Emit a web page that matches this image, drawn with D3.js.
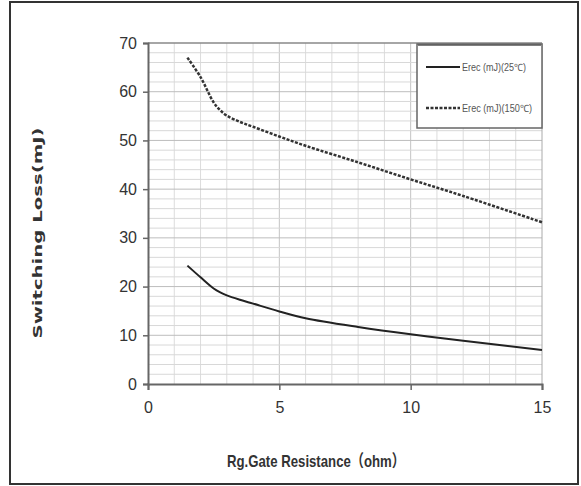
<!DOCTYPE html>
<html><head><meta charset="utf-8">
<script src="https://cdn.jsdelivr.net/npm/d3@7"></script>
<style>html,body{margin:0;padding:0;background:#fff;}svg{display:block;}</style>
</head><body>
<script>
const rg = [1.5, 2, 2.5, 2.75, 3, 3.5, 4, 5, 6, 8, 10, 12, 15];
const erec25 = [24.3, 21.9, 19.6, 18.8, 18.2, 17.3, 16.5, 14.9, 13.5, 11.7, 10.2, 8.9, 7.0];
const erec150 = [67.0, 63.0, 57.8, 56.2, 55.1, 53.8, 52.8, 50.8, 48.9, 45.5, 42.0, 38.6, 33.2];
const seriesNames = ["Erec (mJ)(25\u2103)", "Erec (mJ)(150\u2103)"];
const xTicks = [0, 5, 10, 15];
const yTicks = [0, 10, 20, 30, 40, 50, 60, 70];
const xTitle = "Rg.Gate Resistance\uFF08ohm\uFF09";
const yTitle = "Switching Loss(mJ)";

const W = 581, H = 486;
const svg = d3.select("body").append("svg").attr("width", W).attr("height", H);
const L = 148, R = 542, T = 43, B = 384;
const x = d3.scaleLinear().domain([0, 15]).range([L, R]);
const y = d3.scaleLinear().domain([0, 70]).range([B, T]);
const narrow = "'Liberation Sans Narrow','Arial Narrow','Liberation Sans',Arial,sans-serif";

svg.append("rect").attr("x", 10).attr("y", 2).attr("width", 568).attr("height", 482)
  .attr("fill", "#fff").attr("stroke", "#333").attr("stroke-width", 2);

const g = svg.append("g");
// grid
g.append("g").selectAll("line").data(d3.range(1, 15)).join("line")
  .attr("x1", d => x(d)).attr("x2", d => x(d)).attr("y1", T).attr("y2", B)
  .attr("stroke", d => d % 5 === 0 ? "#c4c4c4" : "#dcdcdc").attr("stroke-width", 1);
g.append("g").selectAll("line").data(d3.range(2, 70, 2)).join("line")
  .attr("x1", L).attr("x2", R).attr("y1", d => y(d)).attr("y2", d => y(d))
  .attr("stroke", d => d % 10 === 0 ? "#bdbdbd" : "#d8d8d8").attr("stroke-width", 1);
// plot borders
g.append("line").attr("x1", L).attr("x2", R).attr("y1", T).attr("y2", T).attr("stroke", "#888").attr("stroke-width", 1.5);
g.append("line").attr("x1", R).attr("x2", R).attr("y1", T).attr("y2", B).attr("stroke", "#aaa").attr("stroke-width", 1);

// axes
const yAxis = d3.axisLeft(y).tickValues(yTicks).tickSize(5).tickPadding(6);
const ya = svg.append("g").attr("transform", `translate(${L},0)`).call(yAxis);
const xAxis = d3.axisBottom(x).tickValues(xTicks).tickSize(6).tickPadding(12);
const xa = svg.append("g").attr("transform", `translate(0,${B})`).call(xAxis);
[ya, xa].forEach(a => {
  a.select(".domain").attr("stroke", "#666").attr("stroke-width", 2);
  a.selectAll(".tick line").attr("stroke", "#666").attr("stroke-width", 1.5);
  a.selectAll(".tick text").attr("font-family", narrow).attr("font-size", 16).attr("fill", "#333");
});

// lines
const line = d3.line().curve(d3.curveCatmullRom.alpha(0.5));
svg.append("path").attr("d", line(rg.map((v, i) => [x(v), y(erec25[i])])))
  .attr("fill", "none").attr("stroke", "#222").attr("stroke-width", 2);
svg.append("path").attr("d", line(rg.map((v, i) => [x(v), y(erec150[i])])))
  .attr("fill", "none").attr("stroke", "#333").attr("stroke-width", 2.5).attr("stroke-dasharray", "3,1.5");

// legend
const lg = svg.append("g");
lg.append("rect").attr("x", 417).attr("y", 44).attr("width", 125).attr("height", 84)
  .attr("fill", "#fff").attr("stroke", "#666").attr("stroke-width", 1.5);
lg.append("line").attr("x1", 418).attr("x2", 541).attr("y1", 45).attr("y2", 45).attr("stroke", "#555").attr("stroke-width", 1.5);
const legY = [67, 108];
lg.append("line").attr("x1", 426).attr("x2", 460).attr("y1", legY[0]).attr("y2", legY[0]).attr("stroke", "#222").attr("stroke-width", 2);
lg.append("line").attr("x1", 426).attr("x2", 460).attr("y1", legY[1]).attr("y2", legY[1]).attr("stroke", "#333").attr("stroke-width", 2.5).attr("stroke-dasharray", "3,1.5");
lg.selectAll("text").data(seriesNames).join("text")
  .attr("x", 462).attr("y", (d, i) => legY[i] + 3.5)
  .attr("font-family", narrow).attr("font-size", 10).attr("fill", "#555")
  .attr("textLength", (d, i) => i === 0 ? 64 : 70).attr("lengthAdjust", "spacingAndGlyphs")
  .text(d => d);

// titles
svg.append("text").attr("x", 316).attr("y", 467).attr("text-anchor", "middle")
  .attr("font-family", narrow + ",'Noto Sans CJK SC'").attr("font-size", 17).attr("font-weight", "bold").attr("fill", "#333")
  .attr("textLength", 178).attr("lengthAdjust", "spacingAndGlyphs").text(xTitle);
svg.append("text").attr("transform", "translate(42,233) rotate(-90)").attr("text-anchor", "middle")
  .attr("font-family", "'DejaVu Sans',Verdana,sans-serif").attr("font-size", 13).attr("font-weight", "bold").attr("fill", "#333")
  .attr("textLength", 211).attr("lengthAdjust", "spacingAndGlyphs").text(yTitle);
</script>
</body></html>
